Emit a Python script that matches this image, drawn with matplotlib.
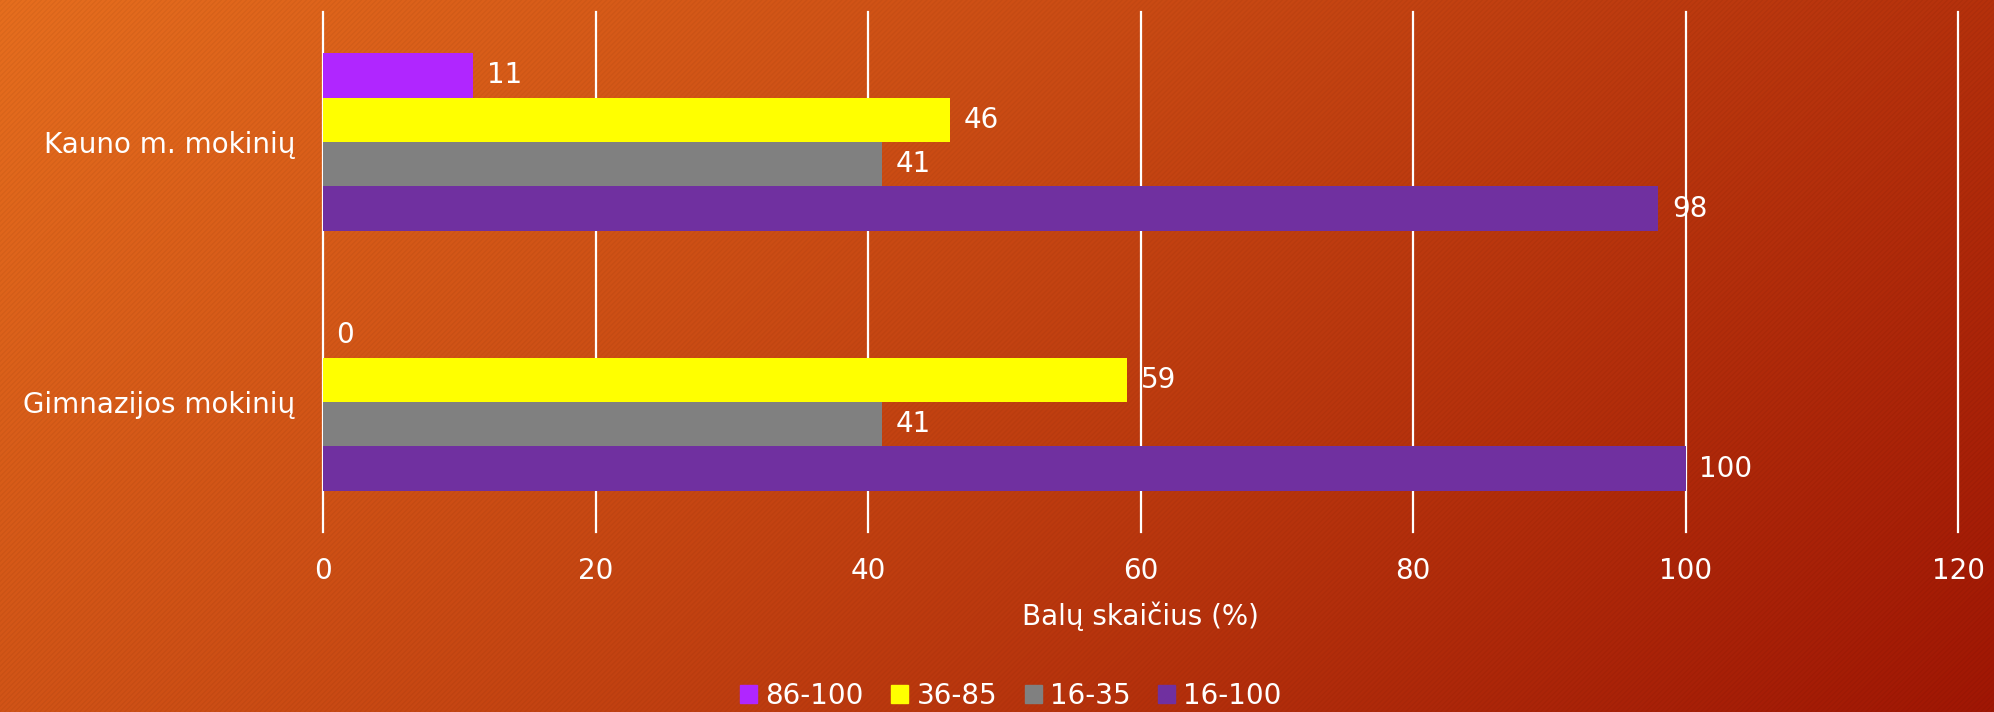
import numpy as np
import matplotlib
matplotlib.use("Agg")
import matplotlib.pyplot as plt
from matplotlib.patches import Patch

categories = ["Gimnazijos mokinių", "Kauno m. mokinių"]
series_names = ["86-100", "36-85", "16-35", "16-100"]
values = {
    "86-100": [0, 11],
    "36-85": [59, 46],
    "16-35": [41, 41],
    "16-100": [100, 98],
}
colors = {"86-100": "#B026FF", "36-85": "#FFFF00", "16-35": "#808080", "16-100": "#7030A0"}
xticks = [0, 20, 40, 60, 80, 100, 120]
xlabel = "Balų skaičius (%)"

plt.rcParams['font.family'] = ['DejaVu Sans']
fs = 20

W, H = 1994, 712
fig = plt.figure(figsize=(W / 100, H / 100), dpi=100)

# background gradient with diagonal stripes
bg = fig.add_axes([0, 0, 1, 1])
yy, xx = np.mgrid[0:H, 0:W]
t = (xx / W * 0.7 + yy / H * 0.3)
c0 = np.array([230, 110, 30]) / 255
c1 = np.array([160, 22, 4]) / 255
img = c0[None, None, :] * (1 - t[..., None]) + c1[None, None, :] * t[..., None]
stripes = ((xx + yy) % 5 < 2).astype(float)
img = img * (1 - 0.04 * stripes[..., None])
bg.imshow(np.clip(img, 0, 1), aspect='auto', extent=[0, 1, 0, 1])
bg.axis('off')

ax = fig.add_axes([323 / W, 1 - 532 / H, (1958 - 323) / W, (532 - 12) / H])
ax.patch.set_alpha(0)
y = np.arange(len(categories))
bh = 0.171
offsets = [1.5, 0.5, -0.5, -1.5]
for name, off in zip(series_names, offsets):
    vals = values[name]
    bars = ax.barh(y + off * bh, vals, height=bh, color=colors[name], zorder=3, label=name)
    for b, v in zip(bars, vals):
        ax.text(b.get_width() + 1.0, b.get_y() + b.get_height() / 2, f"{v}",
                va='center', ha='left', color='white', fontsize=fs, zorder=4)

ax.set_xlim(0, 120)
ax.set_ylim(-0.5, 1.5)
ax.set_xticks(xticks)
ax.set_xticklabels([str(v) for v in xticks])
ax.set_yticks(y)
ax.set_yticklabels(categories)
ax.tick_params(axis='both', length=0, colors='white', labelsize=fs)
ax.tick_params(axis='x', pad=18)
ax.tick_params(axis='y', pad=20)
for xv in xticks:
    ax.axvline(xv, color='white', linewidth=1.6, zorder=1, clip_on=False)
for s in ax.spines.values():
    s.set_visible(False)
ax.set_xlabel(xlabel, color='white', fontsize=fs, labelpad=12)

handles = [Patch(color=colors[n], label=n) for n in series_names]
fig.legend(handles=handles, loc='center', bbox_to_anchor=(1011 / W, 1 - 696 / H), ncol=4,
           frameon=False, fontsize=fs, labelcolor='white', handlelength=0.6, handleheight=0.6,
           handletextpad=0.3, columnspacing=1.0)

fig.savefig("out.png", dpi=100)
